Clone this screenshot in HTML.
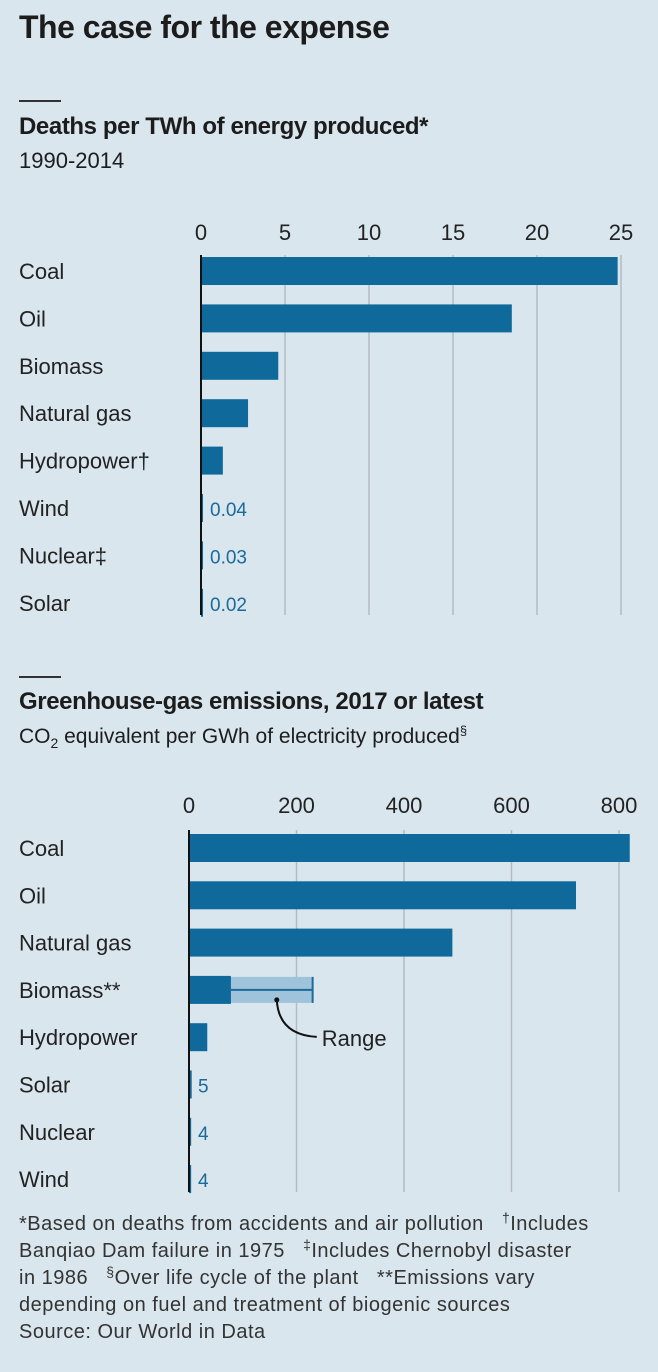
<!DOCTYPE html>
<html><head><meta charset="utf-8"><style>
body{margin:0;width:658px;height:1372px;background:#d9e6ee;font-family:"Liberation Sans",sans-serif;color:#1c1c1c;position:relative;overflow:hidden}
.t{position:absolute;white-space:nowrap}
sup{line-height:0}
</style></head><body>
<div class="t" style="left:19px;top:9px;font-size:32px;font-weight:bold;letter-spacing:-0.5px">The case for the expense</div>
<div style="position:absolute;left:19px;top:100px;width:42px;height:2px;background:#333"></div>
<div class="t" style="left:19px;top:113px;font-size:24px;font-weight:bold;letter-spacing:-0.4px">Deaths per TWh of energy produced*</div>
<div class="t" style="left:19px;top:148px;font-size:22px">1990-2014</div>
<div style="position:absolute;left:19px;top:676px;width:42px;height:2px;background:#333"></div>
<div class="t" style="left:19px;top:688px;font-size:24px;font-weight:bold;letter-spacing:-0.4px">Greenhouse-gas emissions, 2017 or latest</div>
<div class="t" style="left:19px;top:725px;font-size:21px">CO<sub style="font-size:14px;line-height:0">2</sub> equivalent per GWh of electricity produced<sup style="font-size:13px">§</sup></div>
<svg id="c" width="658" height="1372" style="position:absolute;left:0;top:0"></svg>
<div class="t" style="left:19px;top:1211px;font-size:20px;letter-spacing:0.5px;line-height:27px;color:#333">*Based on deaths from accidents and air pollution&nbsp;&nbsp;&nbsp;<sup style="font-size:14px">†</sup>Includes<br>Banqiao Dam failure in 1975&nbsp;&nbsp;&nbsp;<sup style="font-size:14px">‡</sup>Includes Chernobyl disaster<br>in 1986&nbsp;&nbsp;&nbsp;<sup style="font-size:14px">§</sup>Over life cycle of the plant&nbsp;&nbsp;&nbsp;**Emissions vary<br>depending on fuel and treatment of biogenic sources<br>Source: Our World in Data</div>
<script>
const cats1=["Coal","Oil","Biomass","Natural gas","Hydropower†","Wind","Nuclear‡","Solar"];
const vals1=[24.8,18.5,4.6,2.8,1.3,0.04,0.03,0.02];
const labels1=["","","","","","0.04","0.03","0.02"];
const ticks1=[0,5,10,15,20,25];
const cats2=["Coal","Oil","Natural gas","Biomass**","Hydropower","Solar","Nuclear","Wind"];
const vals2=[820,720,490,78,34,5,4,4];
const labels2=["","","","","","5","4","4"];
const rangeHi2=[null,null,null,230,null,null,null,null];
const ticks2=[0,200,400,600,800];
const svg=document.getElementById('c');
const NS='http://www.w3.org/2000/svg';
function el(t,a){const e=document.createElementNS(NS,t);for(const k in a)e.setAttribute(k,a[k]);svg.appendChild(e);return e;}
function draw(cats,vals,labels,ticks,x0,x1,max,y0,step,tickY,axTop,axBot,hi,pfx){
  const xs=v=>x0+(x1-x0)*v/max;
  ticks.forEach(t=>{
    if(t>0){const g=el('line',{x1:xs(t),x2:xs(t),y1:axTop,y2:axBot,stroke:'#b4bcc2','stroke-width':1.5});
    }
    const tx=el('text',{x:xs(t),y:tickY,'text-anchor':'middle','font-size':22,fill:'#222'});tx.textContent=t;
    
  });
  cats.forEach((c,i)=>{
    const cy=y0+i*step;
    const l=el('text',{x:19,y:cy+8,'font-size':22,fill:'#222'});l.textContent=c;
    
    if(hi[i]!=null){
      const r=el('rect',{x:xs(0),y:cy-13,width:xs(hi[i])-xs(0),height:26,fill:'#9fc3da'});
      
      el('line',{x1:xs(vals[i]),x2:xs(hi[i]),y1:cy,y2:cy,stroke:'#1a6a9a','stroke-width':2});
      el('line',{x1:xs(hi[i]),x2:xs(hi[i]),y1:cy-13,y2:cy+13,stroke:'#1a6a9a','stroke-width':2});
      const mx=xs((vals[i]+hi[i])/2)+5;
      el('circle',{cx:mx,cy:cy+10,r:2.5,fill:'#111'});
      el('path',{d:`M${mx} ${cy+10} Q${mx+2} ${cy+45} ${mx+40} ${cy+47}`,fill:'none',stroke:'#111','stroke-width':2});
      const rt=el('text',{x:mx+45,y:cy+56,'font-size':22,fill:'#222'});rt.textContent='Range';
      
    }
    const w=Math.max(xs(vals[i])-xs(0),2);
    const b=el('rect',{x:xs(0),y:cy-14,width:w,height:28,fill:'#0f6a9b'});
    
    if(labels[i]){const v=el('text',{x:xs(0)+9,y:cy+8,'font-size':19,fill:'#1a6a9a'});v.textContent=labels[i];
      }
  });
  const ax=el('line',{x1:x0,x2:x0,y1:axTop,y2:axBot,stroke:'#111','stroke-width':2});
  
}
draw(cats1,vals1,labels1,ticks1,201,621,25,271,47.4,240,255,615,[null,null,null,null,null,null,null,null],'deaths');
draw(cats2,vals2,labels2,ticks2,189,619,800,848,47.3,813,830,1192,rangeHi2,'emissions');
</script>
</body></html>
